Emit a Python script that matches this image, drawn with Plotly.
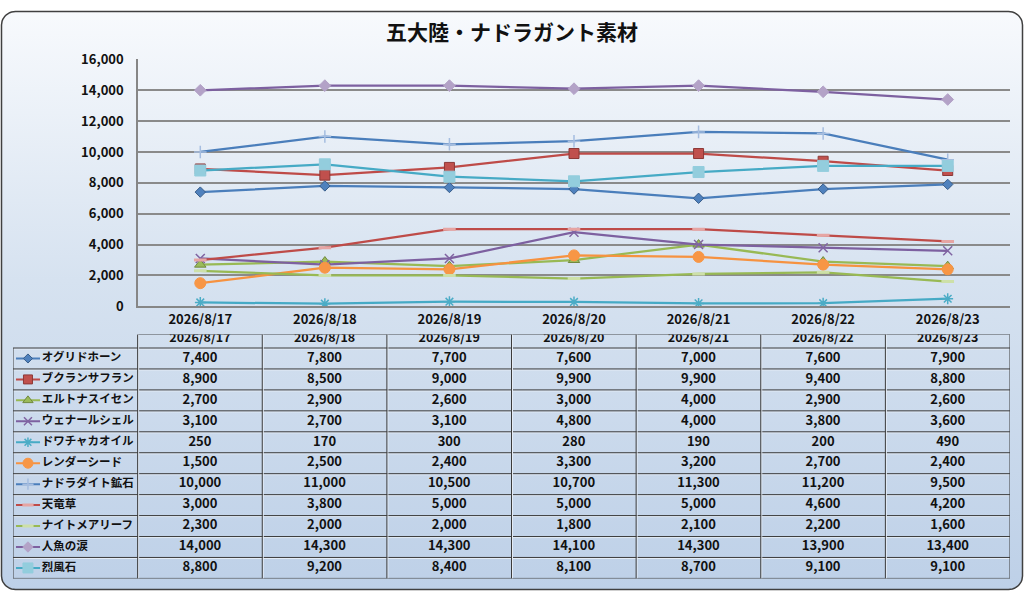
import numpy as np
import plotly.graph_objects as go

# ---- data ----
dates = ["2026/8/17", "2026/8/18", "2026/8/19", "2026/8/20",
         "2026/8/21", "2026/8/22", "2026/8/23"]
names = ["オグリドホーン", "ブクランサフラン", "エルトナスイセン", "ウェナールシェル",
         "ドワチャカオイル", "レンダーシード", "ナドラダイト鉱石", "天竜草",
         "ナイトメアリーフ", "人魚の涙", "烈風石"]

ogurido = [7400, 7800, 7700, 7600, 7000, 7600, 7900]
bukuran = [8900, 8500, 9000, 9900, 9900, 9400, 8800]
erutona = [2700, 2900, 2600, 3000, 4000, 2900, 2600]
wenaru = [3100, 2700, 3100, 4800, 4000, 3800, 3600]
dowacha = [250, 170, 300, 280, 190, 200, 490]
render = [1500, 2500, 2400, 3300, 3200, 2700, 2400]
nadoradite = [10000, 11000, 10500, 10700, 11300, 11200, 9500]
tenryu = [3000, 3800, 5000, 5000, 5000, 4600, 4200]
nightmare = [2300, 2000, 2000, 1800, 2100, 2200, 1600]
ningyo = [14000, 14300, 14300, 14100, 14300, 13900, 13400]
reppu = [8800, 9200, 8400, 8100, 8700, 9100, 9100]

series = [ogurido, bukuran, erutona, wenaru, dowacha, render,
          nadoradite, tenryu, nightmare, ningyo, reppu]

y_ticks = list(range(0, 16001, 2000))

# ---- styles (line colour, marker symbol, marker colour, size, marker line) ----
styles = [
    ("#4a7ebb", "diamond", "#4f81bd", 8, "#385d8a", 1),
    ("#be4b48", "square", "#c0504d", 10, "#8c3836", 1),
    ("#98b954", "triangle-up", "#9bbb59", 10, "#71893f", 1),
    ("#7d60a0", "x-thin-open", "#8064a2", 9, "#7d60a0", 1.5),
    ("#46aac5", "asterisk-open", "#4bacc6", 9, "#46aac5", 1.5),
    ("#f69240", "circle", "#f79646", 11, "#f79646", 1),
    ("#4a7ebb", "cross-thin-open", "#a5bde0", 9, "#a5bde0", 1.5),
    ("#be4b48", "line-ew-open", "#e6a5a3", 9, "#e6a5a3", 3),
    ("#98b954", "line-ew-open", "#cde0a8", 9, "#cde0a8", 3),
    ("#7d60a0", "diamond", "#b3a2c7", 9, "#b3a2c7", 1),
    ("#46aac5", "square", "#93cddd", 11, "#93cddd", 1),
]

FONT = "Noto Sans CJK JP"
W, H = 1024, 600

fig = go.Figure()

# ---- rounded gradient background (subplot xy, full page) ----
r = 14
x0, x1, y0, y1 = 1.5, W - 1.5, 1.5, H - 1.5
t = np.linspace(0, np.pi / 2, 12)
bx, by = [], []
for cx, cy, a0 in [(x1 - r, y1 - r, 0), (x0 + r, y1 - r, np.pi / 2),
                   (x0 + r, y0 + r, np.pi), (x1 - r, y0 + r, 1.5 * np.pi)]:
    bx += list(cx + r * np.cos(a0 + t))
    by += list(cy + r * np.sin(a0 + t))
bx.append(bx[0])
by.append(by[0])
fig.add_trace(go.Scatter(
    x=bx, y=by, xaxis="x", yaxis="y", mode="lines", fill="toself",
    line=dict(color="#404040", width=1.5),
    fillgradient=dict(type="vertical", start=0, stop=H,
                      colorscale=[[0, "#bccfe7"], [0.55, "#d6e2f0"], [1, "#f8fafd"]]),
    hoverinfo="skip", showlegend=False))

# ---- line chart (subplot x2y2) ----
for vals, name, st in zip(series, names, styles):
    lc, sym, mc, ms, mlc, mlw = st
    fig.add_trace(go.Scatter(
        x=dates, y=vals, name=name, xaxis="x2", yaxis="y2", mode="lines+markers",
        line=dict(color=lc, width=2.25),
        marker=dict(symbol=sym, color=mc, size=ms, line=dict(color=mlc, width=mlw)),
        showlegend=False))

# ---- data table (subplot x3y3) ----
idx = list(range(len(dates)))
fig.add_trace(go.Scatter(
    x=idx, y=[-0.92] * len(dates), xaxis="x3", yaxis="y3", mode="text",
    text=dates, textfont=dict(family=FONT, size=12.5, color="#111111", weight="bold"),
    hoverinfo="skip", showlegend=False))
for i, (vals, name, st) in enumerate(zip(series, names, styles)):
    lc, sym, mc, ms, mlc, mlw = st
    fig.add_trace(go.Scatter(
        x=idx, y=[i] * len(vals), xaxis="x3", yaxis="y3", mode="text",
        text=[f"{v:,}" for v in vals],
        textfont=dict(family=FONT, size=13, color="#111111", weight="bold"),
        hoverinfo="skip", showlegend=False))
    # legend key
    fig.add_trace(go.Scatter(
        x=[-1.476, -1.283], y=[i, i], xaxis="x3", yaxis="y3", mode="lines",
        line=dict(color=lc, width=2), hoverinfo="skip", showlegend=False))
    fig.add_trace(go.Scatter(
        x=[-1.38], y=[i], xaxis="x3", yaxis="y3", mode="markers",
        marker=dict(symbol=sym, color=mc, size=ms - 1, line=dict(color=mlc, width=mlw)),
        hoverinfo="skip", showlegend=False))
    fig.add_trace(go.Scatter(
        x=[-1.27], y=[i], xaxis="x3", yaxis="y3", mode="text", text=[name],
        textposition="middle right",
        textfont=dict(family=FONT, size=11.5, color="#111111", weight="bold"),
        hoverinfo="skip", showlegend=False))

n_rows = len(names)
shapes = [dict(type="rect", xref="x2 domain", yref="y2 domain", x0=0, x1=1, y0=0, y1=1,
               fillcolor="white", line=dict(width=0), layer="below")]
grid = dict(color="#3c3c3c", width=1)
hi = dict(color="#e4ecf6", width=1)
# horizontal table lines
shapes.append(dict(type="line", xref="x3", yref="y3", x0=-0.5, x1=6.5,
                   y0=-1.15, y1=-1.15, line=grid))
for k in range(-1, n_rows):
    yy = k + 0.5
    xs = -1.5 if k >= -1 else -0.5
    shapes.append(dict(type="line", xref="x3", yref="y3", x0=xs, x1=6.5,
                       y0=yy + 0.05, y1=yy + 0.05, line=hi))
    shapes.append(dict(type="line", xref="x3", yref="y3", x0=xs, x1=6.5,
                       y0=yy, y1=yy, line=grid))
# vertical table lines
shapes.append(dict(type="line", xref="x3", yref="y3", x0=-1.5, x1=-1.5,
                   y0=-0.5, y1=n_rows - 0.5, line=grid))
for k in range(-1, len(dates)):
    xx = k + 0.5
    shapes.append(dict(type="line", xref="x3", yref="y3", x0=xx + 0.008, x1=xx + 0.008,
                       y0=-1.15, y1=n_rows - 0.5, line=hi))
    shapes.append(dict(type="line", xref="x3", yref="y3", x0=xx, x1=xx,
                       y0=-1.15, y1=n_rows - 0.5, line=grid))

fig.update_layout(
    width=W, height=H,
    margin=dict(l=0, r=0, t=0, b=0),
    paper_bgcolor="white",
    plot_bgcolor="rgba(0,0,0,0)",
    showlegend=False,
    font=dict(family=FONT, color="#111111"),
    shapes=shapes,
    xaxis=dict(domain=[0, 1], range=[0, W], visible=False, fixedrange=True),
    yaxis=dict(domain=[0, 1], range=[0, H], visible=False, fixedrange=True),
    xaxis2=dict(domain=[138 / W, 1010 / W], anchor="y2", type="category",
                range=[-0.5, 6.5], showgrid=False, showline=True,
                linecolor="#868686", linewidth=1.5, ticks="",
                tickfont=dict(family=FONT, size=13, color="#111111", weight="bold")),
    yaxis2=dict(domain=[1 - 306 / H, 1 - 51 / H], anchor="x2", range=[0, 16000],
                tickvals=y_ticks, tickformat=",", showgrid=True,
                gridcolor="#8a8a8a", gridwidth=1.5, showline=True,
                linecolor="#868686", linewidth=1.5, zeroline=False, ticks="",
                ticklabelstandoff=10,
                tickfont=dict(family=FONT, size=13, color="#111111", weight="bold")),
    xaxis3=dict(domain=[13 / W, 1010 / W], anchor="y3", range=[-1.5, 6.5],
                visible=False, fixedrange=True),
    yaxis3=dict(domain=[1 - 587 / H, 1 - 335 / H], anchor="x3",
                range=[n_rows - 0.5, -1.15], visible=False, fixedrange=True),
    annotations=[dict(text="五大陸・ナドラガント素材", xref="paper", yref="paper",
                      x=0.5, y=1 - 22 / H, showarrow=False, xanchor="center",
                      yanchor="middle",
                      font=dict(family=FONT, size=21, color="#111111", weight="bold"))],
)

fig.write_html("out.html", config={"displayModeBar": False},
               post_script="document.body.style.margin='0px';")
